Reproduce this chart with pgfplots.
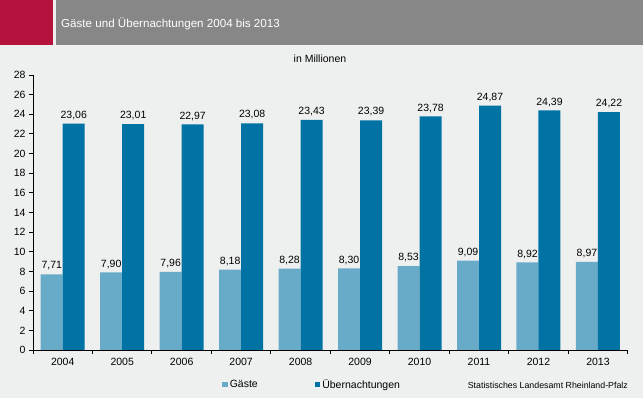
\documentclass[border=0pt]{standalone}
\usepackage{pgfplots}
\pgfplotsset{compat=1.18}
\usepackage{fontspec}
\setmainfont{Liberation Sans}
\definecolor{bgc}{HTML}{EEF0EF}
\definecolor{crim}{HTML}{B5123E}
\definecolor{hdr}{HTML}{878787}
\definecolor{lblue}{HTML}{68ABC8}
\definecolor{dblue}{HTML}{0072A3}
\begin{document}
\begin{tikzpicture}[x=1pt,y=1pt]
\fill[bgc] (0,0) rectangle (643,398);
\fill[crim] (0,353) rectangle (53,398);
\fill[hdr] (56,353) rectangle (643,398);
\node[anchor=west, text=white, font=\fontsize{11.6}{13}\selectfont, inner sep=0pt] at (61,374) {Gäste und Übernachtungen 2004 bis 2013};
\node[font=\fontsize{10.5}{12}\selectfont, inner sep=0pt] at (320,339) {in Millionen};
\node[anchor=east, font=\fontsize{8.8}{10}\selectfont, inner sep=0pt] at (628,12.5) {Statistisches Landesamt Rheinland-Pfalz};
\begin{axis}[
  at={(33pt,48pt)}, anchor=south west,
  scale only axis, width=594.7pt, height=275pt,
  xmin=-0.5, xmax=9.5, ymin=0, ymax=28,
  axis x line*=bottom, axis y line*=left,
  axis line style={black, line width=0.9pt, -},
  ytick={0,2,...,28},
  xtick={0,...,9},
  xticklabels={2004,2005,2006,2007,2008,2009,2010,2011,2012,2013},
  minor xtick={-0.5,0.5,...,9.5},
  tick align=outside,
  major tick length=4pt, minor tick length=4pt,
  x tick style={draw=none},
  minor x tick style={draw=black, line width=0.9pt},
  y tick style={black, line width=0.9pt},
  tick label style={font=\fontsize{10.5}{12}\selectfont},
  /pgf/number format/assume math mode=true,
  xticklabel style={yshift=-1pt},
  yticklabel style={xshift=0pt},
  ybar=0pt, bar width=22pt,
  nodes near coords,
  nodes near coords style={font=\fontsize{10.5}{12}\selectfont, yshift=0.5pt,
    /pgf/number format/fixed, /pgf/number format/fixed zerofill,
    /pgf/number format/precision=2, /pgf/number format/use comma,
    /pgf/number format/assume math mode=true},
  legend style={at={(0.318,-0.125)}, anchor=west, draw=none, fill=none, legend columns=2,
    font=\fontsize{10.5}{12}\selectfont, /tikz/every even column/.append style={column sep=55pt}, inner sep=0pt},
  legend image code/.code={\fill[#1] (0pt,-3pt) rectangle (5.5pt,2.5pt);},
  clip=false,
]
\addplot[fill=lblue, draw=none] coordinates {(0,7.71) (1,7.90) (2,7.96) (3,8.18) (4,8.28) (5,8.30) (6,8.53) (7,9.09) (8,8.92) (9,8.97)};
\addplot[fill=dblue, draw=none] coordinates {(0,23.06) (1,23.01) (2,22.97) (3,23.08) (4,23.43) (5,23.39) (6,23.78) (7,24.87) (8,24.39) (9,24.22)};
\legend{Gäste, Übernachtungen}
\end{axis}
\end{tikzpicture}
\end{document}
